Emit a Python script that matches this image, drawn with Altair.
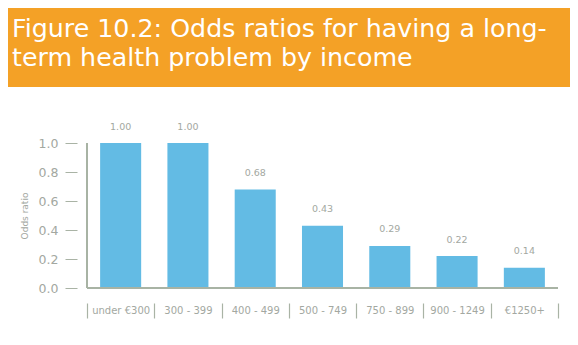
import altair as alt
import pandas as pd

categories = ["under €300", "300 - 399", "400 - 499", "500 - 749", "750 - 899", "900 - 1249", "€1250+"]
odds = [1.00, 1.00, 0.68, 0.43, 0.29, 0.22, 0.14]
y_ticks = [0.0, 0.2, 0.4, 0.6, 0.8, 1.0]
title_lines = ["Figure 10.2: Odds ratios for having a long-", "term health problem by income"]

df = pd.DataFrame({"cat": categories, "odds": odds})
one = pd.DataFrame({"a": [0]})

W, H = 471, 145
AX = "#a9b3a5"
TXT = "#a3a8a1"
FONT = "DejaVu Sans"

x_axis = alt.Axis(domain=False, offset=15, tickSize=15, tickBand="extent",
                  tickColor=AX, tickWidth=1.2, labelAngle=0, labelBaseline="middle",
                  labelPadding=-8, labelFontSize=10, labelColor=TXT, labelFont=FONT)
y_axis = alt.Axis(values=y_ticks, format=".1f", domain=False, offset=10, tickSize=12,
                  tickColor=AX, tickWidth=1, grid=False, labelPadding=7,
                  labelOverlap=False,
                  labelFontSize=12.5, labelColor=TXT, labelFont=FONT,
                  titleFontSize=9, titleColor=TXT, titleFont=FONT,
                  titleFontWeight="normal", titlePadding=9)
x_scale = alt.Scale(paddingInner=0, paddingOuter=0)
y_scale = alt.Scale(domain=[0, 1])

x = alt.X("cat:N", sort=categories, title=None, scale=x_scale, axis=x_axis)
y = alt.Y("odds:Q", title="Odds ratio", scale=y_scale, axis=y_axis)

base = alt.Chart(df)
bars = base.mark_bar(color="#63bbe4", width=alt.RelativeBandSize(0.61)).encode(x=x, y=y)
labels = base.mark_text(dy=-16.5, baseline="middle", fontSize=9.5, color=TXT, font=FONT).encode(
    x=x, y=y, text=alt.Text("odds:Q", format=".2f"))
baseline = base.mark_rule(color=AX, strokeWidth=1.5).encode(
    y=alt.Y(datum=0, title="Odds ratio", scale=y_scale, axis=y_axis))
yline = base.mark_rule(color=AX, strokeWidth=1.5).encode(
    x=alt.value(0), y=alt.Y(datum=0, title="Odds ratio", scale=y_scale, axis=y_axis),
    y2=alt.datum(1))

banner = alt.Chart(one).mark_rect(color="#f4a126", clip=False).encode(
    x=alt.value(-79), x2=alt.value(483), y=alt.value(-135), y2=alt.value(-56))
t1 = alt.Chart(one).mark_text(align="left", baseline="alphabetic", fontSize=25.3, color="white",
                              font=FONT, text=title_lines[0]).encode(
    x=alt.value(-75), y=alt.value(-106.5))
t2 = alt.Chart(one).mark_text(align="left", baseline="alphabetic", fontSize=25.3, color="white",
                              font=FONT, text=title_lines[1]).encode(
    x=alt.value(-75), y=alt.value(-77.5))

chart = alt.layer(bars, banner, t1, t2, yline, labels, baseline).properties(
    width=W, height=H, padding=0, background="white"
).configure_view(stroke=None)

chart.save("out.html", embed_options={"renderer": "svg", "actions": False})
